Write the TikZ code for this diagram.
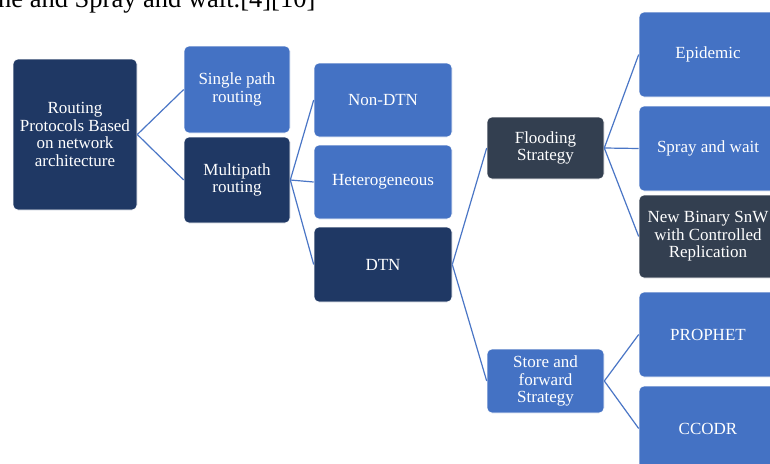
\documentclass[tikz,border=0pt]{standalone}
\usepackage{fontspec}
\setmainfont{Liberation Serif}
\definecolor{cblue}{HTML}{4472C4}
\definecolor{cnavy}{HTML}{1F3864}
\definecolor{cslate}{HTML}{333F50}
\definecolor{cline}{HTML}{4A76C6}
\begin{document}
\begin{tikzpicture}[x=1pt,y=-1pt,
  box/.style={rounded corners=5pt, draw=white, line width=0.6pt, text=white, align=center,
    font=\fontsize{17}{17.5}\selectfont, inner sep=2pt},
  bluebox/.style={box, fill=cblue},
  navybox/.style={box, fill=cnavy},
  slatebox/.style={box, fill=cslate},
  conn/.style={draw=cline, line width=1.2pt}]
\useasboundingbox (0,0) rectangle (770,463);
\clip (0,0) rectangle (770,463);
\fill[white] (0,0) rectangle (770,463);
\node[anchor=base west, inner sep=0pt, font=\fontsize{26.5}{30}\selectfont] (top) at (-2,7.5) {ne and Spray and wait.[4][10]};
% column 1
\node[navybox, minimum width=124pt, minimum height=151pt] (root) at (75,134.5) {Routing\\Protocols Based\\on network\\architecture};
% column 2
\node[bluebox, minimum width=106pt, minimum height=87pt] (sp) at (237,89.5) {Single path\\routing};
\node[navybox, minimum width=106pt, minimum height=86pt] (mp) at (237,180) {Multipath\\routing};
% column 3
\node[bluebox, minimum width=138pt, minimum height=74pt] (nondtn) at (383,100) {Non-DTN};
\node[bluebox, minimum width=138pt, minimum height=74pt] (het) at (383,182) {Heterogeneous};
\node[navybox, minimum width=138pt, minimum height=75pt] (dtn) at (383,264.5) {DTN};
% column 4
\node[slatebox, minimum width=117pt, minimum height=62pt] (flood) at (545.5,148) {Flooding\\Strategy};
\node[bluebox, minimum width=117pt, minimum height=64pt] (store) at (545.5,381) {Store and\\forward\\Strategy};
% column 5
\node[bluebox, minimum width=138pt, minimum height=85pt] (epi) at (708,54.5) {Epidemic};
\node[bluebox, minimum width=138pt, minimum height=85pt] (spray) at (708,148.5) {Spray and wait};
\node[slatebox, minimum width=138pt, minimum height=83pt] (nbs) at (708,236.5) {New Binary SnW\\with Controlled\\Replication};
\node[bluebox, minimum width=138pt, minimum height=85pt] (prophet) at (708,334.5) {PROPHET};
\node[bluebox, minimum width=138pt, minimum height=85pt] (ccodr) at (708,428.5) {CCODR};
% connectors
\draw[conn] (root.east) -- (sp.west);
\draw[conn] (root.east) -- (mp.west);
\draw[conn] (mp.east) -- (nondtn.west);
\draw[conn] (mp.east) -- (het.west);
\draw[conn] (mp.east) -- (dtn.west);
\draw[conn] (dtn.east) -- (flood.west);
\draw[conn] (dtn.east) -- (store.west);
\draw[conn] (flood.east) -- (epi.west);
\draw[conn] (flood.east) -- (spray.west);
\draw[conn] (flood.east) -- (nbs.west);
\draw[conn] (store.east) -- (prophet.west);
\draw[conn] (store.east) -- (ccodr.west);
\end{tikzpicture}
\end{document}
